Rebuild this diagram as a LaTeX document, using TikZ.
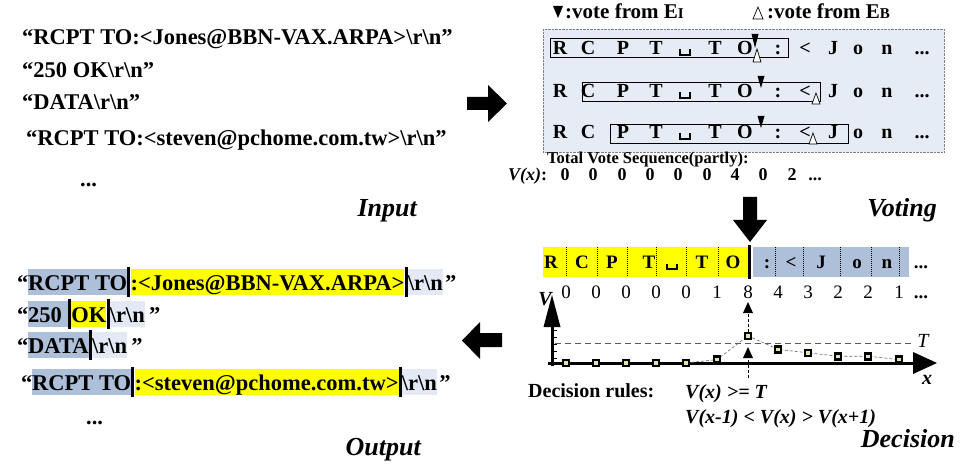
\documentclass[tikz,border=0pt]{standalone}
\usepackage{fontspec}
\setmainfont{Liberation Serif}
\usetikzlibrary{calc}
\definecolor{hlblue}{HTML}{ADBFD9}
\definecolor{hlyellow}{HTML}{FFFF00}
\definecolor{hllight}{HTML}{E4EAF5}
\definecolor{votebg}{HTML}{E6ECF6}
\definecolor{ptfill}{HTML}{E4E4B0}
\newcommand\fsz[1]{\fontsize{#1}{#1}\selectfont}
\newcommand\sbsc[1]{{\fsz{15}#1}}
\tikzset{
  inline/.style={font=\bfseries\fsz{22.5}, anchor=base west, inner sep=0pt},
  seg/.style={font=\bfseries\fsz{22.5}, anchor=base west, inner xsep=0pt, inner ysep=0pt, text height=21pt, text depth=5pt},
  sepline/.style={line width=3pt},
  label/.style={font=\bfseries\itshape\fsz{26}, anchor=base east, inner sep=0pt},
  vletter/.style={font=\bfseries\fsz{20}, anchor=base, inner sep=0pt},
  dletter/.style={font=\bfseries\fsz{19}, anchor=base, inner sep=0pt},
  dnum/.style={font=\fsz{19}, anchor=base, inner sep=0pt},
  small/.style={font=\bfseries\fsz{16.5}, anchor=base west, inner sep=0pt},
  rule/.style={font=\bfseries\itshape\fsz{20}, anchor=base west, inner sep=0pt},
  ptsq/.style={draw=black, line width=2.6pt, fill=ptfill, minimum size=6pt, inner sep=0pt},
  dataline/.style={densely dashed, gray!80!black, line width=0.6pt},
  selbox/.style={draw=black, line width=0.9pt},
  blockarrow/.style={fill=black},
}
\begin{document}
\begin{tikzpicture}[x=1pt,y=-1pt]
\useasboundingbox (0,0) rectangle (962,468);
\fill[white] (0,0) rectangle (962,468);

% ---------------- Input ----------------
\node[inline] (in1) at (22,45) {“RCPT TO:<Jones@BBN-VAX.ARPA>\textbackslash r\textbackslash n”};
\node[inline] (in2) at (22,78) {“250 OK\textbackslash r\textbackslash n”};
\node[inline] (in3) at (22,110) {“DATA\textbackslash r\textbackslash n”};
\node[inline] (in4) at (26,146) {“RCPT TO:<steven@pchome.com.tw>\textbackslash r\textbackslash n”};
\node[inline] (indots) at (80,186) {...};
\node[label] (inlab) at (417,216) {Input};

% arrow input -> voting
\fill[blockarrow] (467,97) -- (488,97) -- (488,85) -- (507,103.5) -- (488,122) -- (488,110) -- (467,110) -- cycle;

% ---------------- Voting ----------------
\fill (553,6) -- (563,6) -- (558,18) -- cycle;
\node[small, font=\bfseries\fsz{21}] (leg1) at (565,19) {:vote from E\sbsc{I}};
\draw[line width=0.7pt, fill=white] (753,19) -- (763,19) -- (758,7) -- cycle;
\node[small, font=\bfseries\fsz{21}] (leg2) at (767,19) {:vote from E\sbsc{B}};

\draw[gray, densely dotted, fill=votebg] (543,29) rectangle (944,152);

\foreach \row/\yb in {1/55,2/98,3/139}{
  \foreach \x/\c in {560/R,588/C,623/P,656/T,715/T,745/O,778/{:},805/{<},833/J,858/o,887/n,922/{...}}{
    \node[vletter] (v\row-\x) at (\x,\yb) {\c};
  }
  \draw[line width=1.5pt] (680,\yb-6) -- (680,\yb) -- (690,\yb) -- (690,\yb-6);
}
\draw[selbox] (550,38) rectangle (788,57);
\draw[selbox] (582,82) rectangle (820,101);
\draw[selbox] (610,124) rectangle (848,143);

% vote markers
\fill (751.5,34) -- (758.5,34) -- (755,48) -- cycle;
\draw[line width=0.7pt, fill=white] (753,62) -- (761,62) -- (757,49) -- cycle;
\fill (757.5,76) -- (764.5,76) -- (761,88) -- cycle;
\draw[line width=0.7pt, fill=white] (812,104) -- (820,104) -- (816,93) -- cycle;
\fill (757.5,116) -- (764.5,116) -- (761,128) -- cycle;
\draw[line width=0.7pt, fill=white] (809,144) -- (817,144) -- (813,133) -- cycle;

\node[small] (tvs) at (547,164) {Total Vote Sequence(partly):};
\node[rule, font=\bfseries\itshape\fsz{18}] (vx) at (508,181) {V(x)\textup{:}};
\foreach \x/\c in {565/0,593/0,622/0,650/0,678/0,707/0,735/4,763/0,792/2,815/{...}}{
  \node[vletter, font=\bfseries\fsz{18}] (vs\x) at (\x,181) {\c};
}
\node[label] (votlab) at (937,216) {Voting};

% arrow voting -> decision
\fill[blockarrow] (743,197) -- (757,197) -- (757,220) -- (767,220) -- (750,242) -- (733,220) -- (743,220) -- cycle;

% ---------------- Decision ----------------
\fill[hlyellow] (543,247) rectangle (749,277);
\fill[hlblue] (753,247) rectangle (909,277);
\foreach \x in {566,597,627,656,686,718,775,803,840,871,899}{
  \draw[densely dotted, line width=1pt] (\x,247) -- (\x,277);
}
\draw[line width=3.5pt] (749.5,245) -- (749.5,279);
\foreach \x/\c in {551/R,582/C,612/P,649/T,702/T,733/O,767/{:},791/{<},821/J,857/o,887/n,921/{...}}{
  \node[dletter] (d\x) at (\x,269) {\c};
}
\draw[line width=1.5pt] (667,264) -- (667,269) -- (677,269) -- (677,264);

\foreach \x/\c in {566/0,596/0,626/0,656/0,686/0,717/1,748/8,778/4,808/3,838/2,868/2,899/1}{
  \node[dnum] (n\x) at (\x,298) {\c};
}
\node[dletter] (ndots) at (921,298) {...};

% graph
\node[font=\bfseries\itshape\fsz{20}, inner sep=0pt] (vlab) at (545,299) {V};
\foreach \y in {330,337,344,351,358}{ \draw[line width=0.6pt] (552,\y) -- (557,\y); }
\draw[line width=3pt] (552,366) -- (552,325);
\fill (543.5,327) -- (560.5,327) -- (552,295) -- cycle;
\draw[line width=3pt] (548,363) -- (915,363);
\fill (913,352) -- (937,363) -- (913,374) -- cycle;
\node[font=\bfseries\itshape\fsz{20}, inner sep=0pt] (xlab) at (927,380) {x};
\draw[dashed, gray!70!black, line width=0.7pt, dash pattern=on 6pt off 4pt] (555,343) -- (913,343);
\node[font=\itshape\fsz{20}, inner sep=0pt] (tlab) at (923,341) {T};

\foreach \i/\x/\v in {1/566/0,2/596/0,3/626/0,4/656/0,5/686/0,6/717/1,7/748/8,8/778/4,9/808/3,10/838/2,11/868/2,12/899/1}{
  \coordinate (p\i) at (\x,{363-3.4*\v});
}
\draw[dataline] (p5) -- (p6) -- (p7) -- (p8) -- (p9) -- (p10) -- (p11) -- (p12);
\foreach \i in {1,...,12}{ \node[ptsq] (q\i) at (p\i) {}; }

% dashed arrows at the peak
\coordinate (uptip) at (748,302);
\coordinate (lowtip) at (748,347);
\coordinate (lowend) at (748,378);
\draw[dataline, black] (q7.north) -- ($(uptip)+(0,10)$);
\fill (uptip) -- ++(-5,11) -- ++(10,0) -- cycle;
\draw[dataline, black] (lowend) -- ($(lowtip)+(0,10)$);
\fill (lowtip) -- ++(-5,11) -- ++(10,0) -- cycle;

\node[small, font=\bfseries\fsz{20}] (drules) at (528,397) {Decision rules:};
\node[rule] (rule1) at (685,398) {V(x) >= T};
\node[rule] (rule2) at (685,423) {V(x-1) < V(x) > V(x+1)};
\node[label] (declab) at (955,447) {Decision};

% arrow decision -> output
\fill[blockarrow] (502,333) -- (480,333) -- (480,322) -- (462,340.5) -- (480,359) -- (480,347) -- (502,347) -- cycle;

% ---------------- Output ----------------
% line 1
\node[inline] (o1q) at (17,290) {“};
\node[seg, fill=hlblue] (o1a) at (28,290) {RCPT TO};
\node[seg, fill=hlyellow] (o1b) at ($(o1a.base east)+(3,0)$) {:<Jones@BBN-VAX.ARPA>};
\node[seg, fill=hllight] (o1c) at ($(o1b.base east)+(3,0)$) {\textbackslash r\textbackslash n};
\node[inline] (o1e) at ($(o1c.base east)+(2,0)$) {”};
\draw[sepline] ($(o1a.north east)+(1.5,-2)$) -- ($(o1a.south east)+(1.5,2)$);
\draw[sepline] ($(o1b.north east)+(1.5,-2)$) -- ($(o1b.south east)+(1.5,2)$);
% line 2
\node[inline] (o2q) at (17,322) {“};
\node[seg, fill=hlblue] (o2a) at (28,322) {250\kern6pt};
\node[seg, fill=hlyellow] (o2b) at ($(o2a.base east)+(3,0)$) {OK};
\node[seg, fill=hllight] (o2c) at ($(o2b.base east)+(3,0)$) {\textbackslash r\textbackslash n};
\node[inline] (o2e) at ($(o2c.base east)+(4,0)$) {”};
\draw[sepline] ($(o2a.north east)+(1.5,-2)$) -- ($(o2a.south east)+(1.5,2)$);
\draw[sepline] ($(o2b.north east)+(1.5,-2)$) -- ($(o2b.south east)+(1.5,2)$);
% line 3
\node[inline] (o3q) at (17,353) {“};
\node[seg, fill=hlblue] (o3a) at (28,353) {DATA};
\node[seg, fill=hllight] (o3c) at ($(o3a.base east)+(3,0)$) {\textbackslash r\textbackslash n};
\node[inline] (o3e) at ($(o3c.base east)+(4,0)$) {”};
\draw[sepline] ($(o3a.north east)+(1.5,-2)$) -- ($(o3a.south east)+(1.5,2)$);
% line 4
\node[inline] (o4q) at (21,390) {“};
\node[seg, fill=hlblue] (o4a) at (32,390) {RCPT TO};
\node[seg, fill=hlyellow] (o4b) at ($(o4a.base east)+(3,0)$) {:<steven@pchome.com.tw>};
\node[seg, fill=hllight] (o4c) at ($(o4b.base east)+(3,0)$) {\textbackslash r\textbackslash n};
\node[inline] (o4e) at ($(o4c.base east)+(2,0)$) {”};
\draw[sepline] ($(o4a.north east)+(1.5,-2)$) -- ($(o4a.south east)+(1.5,2)$);
\draw[sepline] ($(o4b.north east)+(1.5,-2)$) -- ($(o4b.south east)+(1.5,2)$);

\node[inline] (outdots) at (86,424) {...};
\node[label] (outlab) at (421,455) {Output};
\end{tikzpicture}
\end{document}
